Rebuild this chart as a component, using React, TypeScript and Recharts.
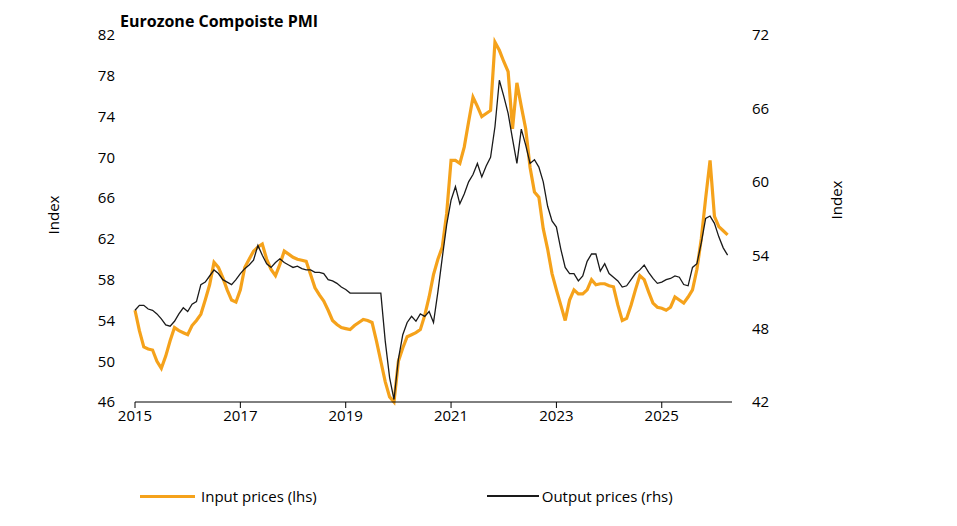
import React from "react";
import { LineChart, Line, XAxis, YAxis } from "recharts";

const inputPrices = [55,53,51.4,51.2,51.1,50,49.3,50.5,52,53.3,53,52.8,
52.6,53.5,54,54.6,56,57.5,59.7,59.2,58.2,57,56,55.8,
57,59.2,60,60.8,61.2,61.5,60,59,58.4,59.5,60.8,60.5,
60.2,60,59.9,59.8,58.5,57.2,56.5,55.9,55,54,53.6,53.3,
53.2,53.1,53.5,53.8,54.1,54,53.8,52,50,48,46.5,46,
50,51.3,52.4,52.6,52.8,53.1,54.5,56.3,58.5,60,61.2,64.5,
69.7,69.7,69.4,71,73.5,75.9,75,74,74.3,74.6,81.3,80.5,
79.4,78.4,72.8,77.3,75,72.8,69,66.6,66.1,63,61,58.6,
57,55.5,54,56,57,56.6,56.6,57,58,57.5,57.6,57.6,
57.4,57.3,55.5,54,54.2,55.5,57,58.4,58,56.8,55.7,55.3,
55.2,55,55.3,56.3,56,55.7,56.3,57,59,62,66,69.7,
64.2,63.2,62.8,62.4];

const outputPrices = [49.5,49.9,49.9,49.6,49.5,49.2,48.8,48.3,48.2,48.6,49.2,49.7,
49.4,50,50.2,51.6,51.8,52.3,52.8,52.5,52,51.8,51.6,52,
52.5,52.9,53.2,53.6,54.8,54,53.3,53,53.4,53.7,53.4,53.2,
53,53.1,52.9,52.8,52.8,52.6,52.6,52.5,52,51.9,51.7,51.4,
51.2,50.9,50.9,50.9,50.9,50.9,50.9,50.9,50.9,47,44,42.2,
45.5,47.5,48.5,49,48.6,49.2,49,49.4,48.5,51,53.8,56.5,
58.5,59.6,58.2,59,60,60.6,61.5,60.4,61.3,62,64.5,68.3,
67,65.6,63.5,61.5,64.3,63,61.5,61.8,61.2,60,58,56.8,
56.3,54.5,53,52.5,52.5,51.9,52.3,53.5,54.1,54.1,52.7,53.3,
52.5,52.2,51.9,51.4,51.5,52,52.5,52.8,53.2,52.6,52.1,51.7,
51.8,52,52.1,52.3,52.2,51.6,51.5,53,53.3,55,57,57.2,
56.6,55.5,54.6,54];

const yearTicks = [0, 24, 48, 72, 96, 120];
const yearLabels = ["2015", "2017", "2019", "2021", "2023", "2025"];
const leftTicks = [46, 50, 54, 58, 62, 66, 70, 74, 78, 82];
const rightTicks = [42, 48, 54, 60, 66, 72];

const data = inputPrices.map((v, i) => ({ m: i, input: v, output: outputPrices[i] }));

const font = "'Open Sans', 'Liberation Sans', sans-serif";
const tickStyle = { fill: "#000", fontSize: 15, fontFamily: font };

export default function App() {
  return (
    <div style={{ position: "relative", width: 957, height: 510, fontFamily: font }}>
      <LineChart width={957} height={470} data={data} margin={{ top: 27, right: 123, bottom: 46, left: 0 }}>
        <XAxis
          dataKey="m"
          type="number"
          domain={[0, 136]}
          ticks={yearTicks}
          tickFormatter={(v) => yearLabels[yearTicks.indexOf(v)]}
          tick={tickStyle}
          stroke="#000"
          tickSize={6}
          height={30}
        />
        <YAxis
          yAxisId="l"
          domain={[46, 82]}
          ticks={leftTicks}
          width={127}
          axisLine={false}
          tickLine={false}
          tick={tickStyle}
          tickMargin={14}
        />
        <YAxis
          yAxisId="r"
          orientation="right"
          domain={[42, 72]}
          ticks={rightTicks}
          width={110}
          axisLine={false}
          tickLine={false}
          tick={{ ...tickStyle, textAnchor: "start" }}
          tickMargin={14}
        />
        <Line yAxisId="l" dataKey="input" stroke="#F5A21B" strokeWidth={3.2} dot={false} isAnimationActive={false} />
        <Line yAxisId="r" dataKey="output" stroke="#1a1a1a" strokeWidth={1.3} dot={false} isAnimationActive={false} />
        <text x={45} y={207} transform="rotate(-90 45 207)" textAnchor="middle" dominantBaseline="central" fontSize={15} fontFamily={font} fill="#000">Index</text>
        <text x={828} y={192} transform="rotate(-90 828 192)" textAnchor="middle" dominantBaseline="central" fontSize={15} fontFamily={font} fill="#000">Index</text>
      </LineChart>
      <div style={{ position: "absolute", left: 132, top: 478, display: "flex", alignItems: "center", fontSize: 15 }}>
        <span style={{ display: "inline-block", width: 55, height: 3, background: "#F5A21B", marginRight: 6 }} />
        <span>Input prices (lhs)</span>
        <span style={{ display: "inline-block", width: 52, height: 1.3, background: "#1a1a1a", marginLeft: 170, marginRight: 3 }} />
        <span>Output prices (rhs)</span>
      </div>
      <div style={{ position: "absolute", left: 112, top: 2, fontWeight: "bold", fontSize: 16 }}>
        Eurozone Compoiste PMI
      </div>
    </div>
  );
}
